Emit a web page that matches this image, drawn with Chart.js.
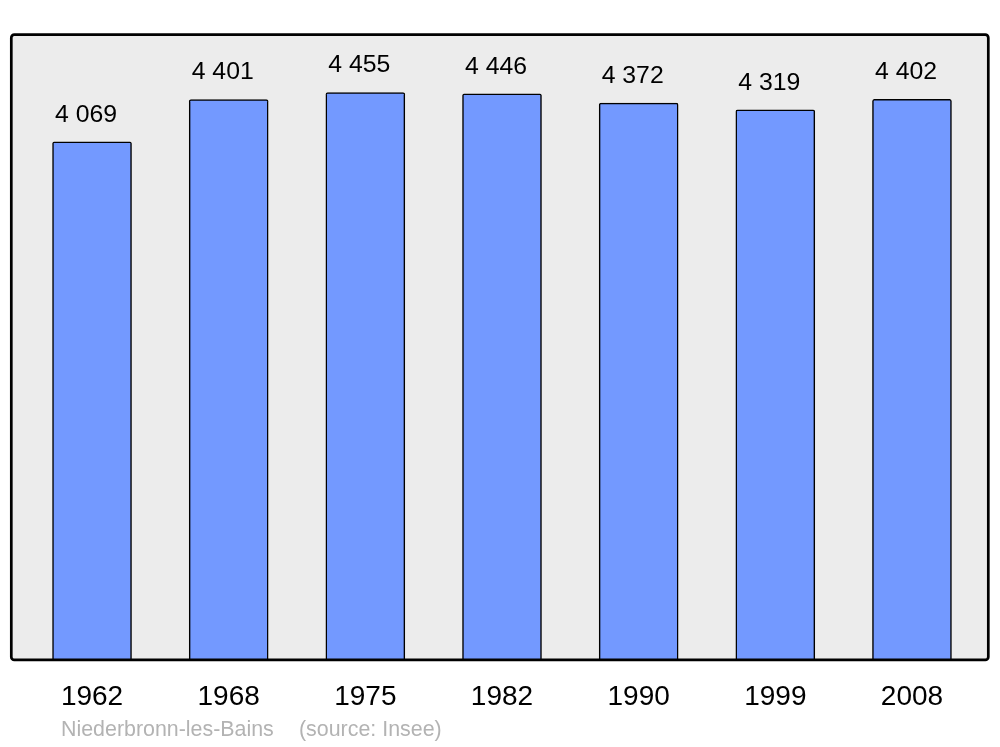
<!DOCTYPE html>
<html>
<head>
<meta charset="utf-8">
<title>Niederbronn-les-Bains</title>
<script src="https://cdn.jsdelivr.net/npm/chart.js@4/dist/chart.umd.min.js"></script>
<style>
	html, body { margin: 0; padding: 0; background: #fff; }
	#wrap { width: 1000px; height: 747px; }
</style>
</head>
<body>
<div id="wrap"><canvas id="chart" width="1000" height="747"></canvas></div>
<script>
// Population data (source: Insee).
var years = ['1962', '1968', '1975', '1982', '1990', '1999', '2008'];
var population = [4069, 4401, 4455, 4446, 4372, 4319, 4402];
var footerPlace = 'Niederbronn-les-Bains';
var footerSource = '(source: Insee)';

// "4 069" style thousands separator.
var formatNumber = function(value) {
	return String(value).replace(/\B(?=(\d{3})+(?!\d))/g, ' ');
};

var roundRect = function(ctx, x, y, w, h, r) {
	ctx.beginPath();
	ctx.moveTo(x + r, y);
	ctx.lineTo(x + w - r, y);
	ctx.arcTo(x + w, y, x + w, y + r, r);
	ctx.lineTo(x + w, y + h - r);
	ctx.arcTo(x + w, y + h, x + w - r, y + h, r);
	ctx.lineTo(x + r, y + h);
	ctx.arcTo(x, y + h, x, y + h - r, r);
	ctx.lineTo(x, y + r);
	ctx.arcTo(x, y, x + r, y, r);
	ctx.closePath();
};

// Grey box behind the bars, black frame on top of them.
var framePlugin = {
	id: 'frame',
	box: function(chart) {
		var a = chart.chartArea;
		return { x: a.left - 12.4, y: a.top, w: (a.right + 8) - (a.left - 12.4), h: a.bottom - a.top };
	},
	beforeDatasetsDraw: function(chart) {
		var b = this.box(chart), ctx = chart.ctx;
		ctx.save();
		roundRect(ctx, b.x, b.y, b.w, b.h, 3);
		ctx.fillStyle = '#ececec';
		ctx.fill();
		ctx.restore();
	},
	afterDatasetsDraw: function(chart) {
		var b = this.box(chart), ctx = chart.ctx;
		ctx.save();
		roundRect(ctx, b.x, b.y, b.w, b.h, 3);
		ctx.lineWidth = 2.7;
		ctx.strokeStyle = '#000';
		ctx.stroke();
		ctx.restore();
	}
};

// Value above each bar (slightly left of the bar centre, as in the original).
var valueLabelsPlugin = {
	id: 'valueLabels',
	afterDatasetsDraw: function(chart) {
		var ctx = chart.ctx;
		var meta = chart.getDatasetMeta(0);
		ctx.save();
		ctx.font = '24.8px "Liberation Sans", Arial, sans-serif';
		ctx.fillStyle = '#000';
		ctx.textAlign = 'center';
		ctx.textBaseline = 'middle';
		meta.data.forEach(function(bar, i) {
			ctx.fillText(formatNumber(population[i]), bar.x - 6, bar.y - 27);
		});
		ctx.restore();
	}
};

// Grey footer under the years.
var footerPlugin = {
	id: 'footer',
	afterDraw: function(chart) {
		var ctx = chart.ctx;
		ctx.save();
		ctx.font = '21.4px "Liberation Sans", Arial, sans-serif';
		ctx.fillStyle = '#b3b3b3';
		ctx.textAlign = 'left';
		ctx.textBaseline = 'middle';
		ctx.fillText(footerPlace, 61, 730);
		ctx.fillText(footerSource, 299, 730);
		ctx.restore();
	}
};

new Chart(document.getElementById('chart').getContext('2d'), {
	type: 'bar',
	data: {
		labels: years,
		datasets: [{
			data: population,
			backgroundColor: '#7399ff',
			borderColor: '#000',
			borderWidth: 1.5,
			borderRadius: 2,
			barThickness: 79
		}]
	},
	options: {
		responsive: false,
		animation: false,
		events: [],
		layout: {
			padding: { left: 23.7, right: 19.7, top: 34.7, bottom: 11.5 }
		},
		plugins: {
			legend: { display: false },
			tooltip: { enabled: false },
			title: { display: false }
		},
		scales: {
			x: {
				grid: { display: false, drawTicks: false },
				border: { display: false },
				ticks: {
					color: '#000',
					padding: 21,
					font: { size: 28, family: '"Liberation Sans", Arial, sans-serif' }
				}
			},
			y: {
				display: false,
				min: 0,
				max: 4910
			}
		}
	},
	plugins: [framePlugin, valueLabelsPlugin, footerPlugin]
});
</script>
</body>
</html>
